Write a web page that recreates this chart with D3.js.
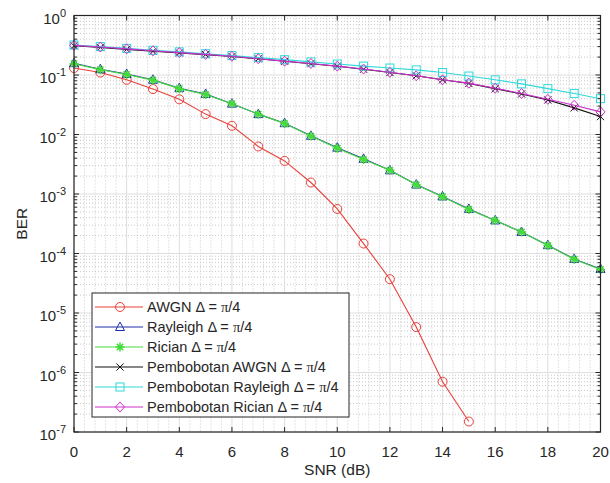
<!DOCTYPE html>
<html>
<head>
<meta charset="utf-8">
<script src="https://cdn.jsdelivr.net/npm/d3@7"></script>
<style>
  body { margin: 0; background: #fff; }
  svg text { font-family: "Liberation Sans", Arial, sans-serif; fill: #262626; }
</style>
</head>
<body>
<div id="chart"></div>
<script>
// ========== Data ==========
const snr = [0, 1, 2, 3, 4, 5, 6, 7, 8, 9, 10, 11, 12, 13, 14, 15, 16, 17, 18, 19, 20];
const snrAwgn = [0, 1, 2, 3, 4, 5, 6, 7, 8, 9, 10, 11, 12, 13, 14, 15];

const berAwgn = [0.131, 0.110, 0.083, 0.058, 0.039, 0.022, 0.014, 0.0063, 0.0036, 0.00156,
  5.6e-4, 1.47e-4, 3.7e-5, 5.8e-6, 7.0e-7, 1.5e-7];
const berRayleigh = [0.158, 0.125, 0.104, 0.083, 0.060, 0.048, 0.033, 0.022, 0.0155, 0.0095,
  0.0060, 0.0039, 0.0025, 0.00144, 9.1e-4, 5.6e-4, 3.6e-4, 2.3e-4, 1.38e-4, 8.1e-5, 5.5e-5];
const berRician = [0.155, 0.123, 0.102, 0.082, 0.059, 0.047, 0.033, 0.022, 0.0153, 0.0094,
  0.0059, 0.0038, 0.0025, 0.00143, 9.0e-4, 5.5e-4, 3.6e-4, 2.3e-4, 1.36e-4, 8.0e-5, 5.4e-5];
const berPembAwgn = [0.31, 0.29, 0.27, 0.25, 0.235, 0.22, 0.205, 0.187, 0.17, 0.155,
  0.14, 0.125, 0.11, 0.097, 0.083, 0.072, 0.059, 0.048, 0.038, 0.028, 0.020];
const berPembRayleigh = [0.32, 0.30, 0.28, 0.26, 0.245, 0.228, 0.212, 0.196, 0.181, 0.166,
  0.153, 0.141, 0.131, 0.122, 0.110, 0.096, 0.083, 0.071, 0.059, 0.049, 0.040];
const berPembRician = [0.315, 0.295, 0.275, 0.255, 0.238, 0.222, 0.206, 0.188, 0.171, 0.156,
  0.141, 0.126, 0.111, 0.097, 0.083, 0.073, 0.060, 0.049, 0.039, 0.031, 0.024];

const xTicks = [0, 2, 4, 6, 8, 10, 12, 14, 16, 18, 20];
const yExponents = [0, -1, -2, -3, -4, -5, -6, -7];
const legendLabels = ['AWGN', 'Rayleigh', 'Rician', 'Pembobotan AWGN', 'Pembobotan Rayleigh', 'Pembobotan Rician'];

// ========== Config ==========
const config = {
  width: 610, height: 483,
  plot: { left: 74, right: 600.5, top: 15.5, bottom: 432 },
  legend: { x: 92, y: 293, w: 257, h: 124, row: 20 }
};

const series = [
  { label: legendLabels[0], x: snrAwgn, y: berAwgn, color: '#e8403a', marker: 'circle' },
  { label: legendLabels[1], x: snr, y: berRayleigh, color: '#1f2ea8', marker: 'triangle' },
  { label: legendLabels[2], x: snr, y: berRician, color: '#45dc3a', marker: 'star' },
  { label: legendLabels[3], x: snr, y: berPembAwgn, color: '#111111', marker: 'cross' },
  { label: legendLabels[4], x: snr, y: berPembRayleigh, color: '#2fdada', marker: 'square' },
  { label: legendLabels[5], x: snr, y: berPembRician, color: '#cc2fcc', marker: 'diamond' }
];

// ========== SVG ==========
const svg = d3.select('#chart').append('svg')
  .attr('width', config.width)
  .attr('height', config.height);

const p = config.plot;
const x = d3.scaleLinear().domain([0, 20]).range([p.left, p.right]);
const y = d3.scaleLog().domain([1e-7, 1]).range([p.bottom, p.top]);

// ========== Grid ==========
const grid = svg.append('g');
const xMinor = d3.range(0, 20.001, 0.4).filter(v => Math.abs(v / 2 - Math.round(v / 2)) > 1e-6);
const yMinor = [];
yExponents.slice(1).forEach(e => { for (let k = 2; k <= 9; k++) yMinor.push(k * Math.pow(10, e)); });

grid.selectAll('.xminor').data(xMinor).join('line')
  .attr('x1', d => x(d)).attr('x2', d => x(d))
  .attr('y1', p.top).attr('y2', p.bottom)
  .attr('stroke', '#c8c8c8').attr('stroke-dasharray', '1,2');
grid.selectAll('.yminor').data(yMinor).join('line')
  .attr('x1', p.left).attr('x2', p.right)
  .attr('y1', d => y(d)).attr('y2', d => y(d))
  .attr('stroke', '#c8c8c8').attr('stroke-dasharray', '1,2');
grid.selectAll('.xmajor').data(xTicks).join('line')
  .attr('x1', d => x(d)).attr('x2', d => x(d))
  .attr('y1', p.top).attr('y2', p.bottom)
  .attr('stroke', '#dedede');
grid.selectAll('.ymajor').data(yExponents).join('line')
  .attr('x1', p.left).attr('x2', p.right)
  .attr('y1', d => y(Math.pow(10, d))).attr('y2', d => y(Math.pow(10, d)))
  .attr('stroke', '#dedede');

// ========== Markers ==========
function drawMarker(g, type, color) {
  const s = 4.5;
  if (type === 'circle') {
    g.append('circle').attr('r', s).attr('fill', 'none').attr('stroke', color);
  } else if (type === 'triangle') {
    g.append('path').attr('d', `M0,${-s - 0.5}L${s},${s - 1}L${-s},${s - 1}Z`)
      .attr('fill', 'none').attr('stroke', color);
  } else if (type === 'star') {
    g.append('path').attr('d', `M${-s},0H${s}M0,${-s}V${s}M${-s * 0.7},${-s * 0.7}L${s * 0.7},${s * 0.7}M${-s * 0.7},${s * 0.7}L${s * 0.7},${-s * 0.7}`)
      .attr('fill', 'none').attr('stroke', color).attr('stroke-width', 1.5);
  } else if (type === 'cross') {
    g.append('path').attr('d', `M${-s * 0.8},${-s * 0.8}L${s * 0.8},${s * 0.8}M${-s * 0.8},${s * 0.8}L${s * 0.8},${-s * 0.8}`)
      .attr('fill', 'none').attr('stroke', color);
  } else if (type === 'square') {
    g.append('rect').attr('x', -s + 0.5).attr('y', -s + 0.5).attr('width', 2 * s - 1).attr('height', 2 * s - 1)
      .attr('fill', 'none').attr('stroke', color);
  } else if (type === 'diamond') {
    g.append('path').attr('d', `M0,${-s - 0.5}L${s},0L0,${s + 0.5}L${-s},0Z`)
      .attr('fill', 'none').attr('stroke', color);
  }
}

// ========== Series ==========
const line = d3.line().x(d => x(d[0])).y(d => y(d[1]));
series.forEach(sr => {
  const pts = sr.x.map((v, i) => [v, sr.y[i]]);
  const g = svg.append('g');
  g.append('path').attr('d', line(pts))
    .attr('fill', 'none').attr('stroke', sr.color).attr('stroke-width', 1.1);
  pts.forEach(pt => {
    drawMarker(g.append('g').attr('transform', `translate(${x(pt[0])},${y(pt[1])})`), sr.marker, sr.color);
  });
});

// ========== Axes box & ticks ==========
const axes = svg.append('g').attr('stroke', '#262626');
axes.append('rect')
  .attr('x', p.left).attr('y', p.top)
  .attr('width', p.right - p.left).attr('height', p.bottom - p.top)
  .attr('fill', 'none').attr('stroke-width', 1.2);
xTicks.forEach(t => {
  axes.append('line').attr('x1', x(t)).attr('x2', x(t)).attr('y1', p.bottom).attr('y2', p.bottom - 5);
  axes.append('line').attr('x1', x(t)).attr('x2', x(t)).attr('y1', p.top).attr('y2', p.top + 5);
});
yExponents.forEach(e => {
  const yy = y(Math.pow(10, e));
  axes.append('line').attr('x1', p.left).attr('x2', p.left + 5).attr('y1', yy).attr('y2', yy);
  axes.append('line').attr('x1', p.right).attr('x2', p.right - 5).attr('y1', yy).attr('y2', yy);
});
yMinor.forEach(v => {
  axes.append('line').attr('x1', p.left).attr('x2', p.left + 3).attr('y1', y(v)).attr('y2', y(v));
  axes.append('line').attr('x1', p.right).attr('x2', p.right - 3).attr('y1', y(v)).attr('y2', y(v));
});

// ========== Tick labels ==========
svg.append('g').selectAll('text').data(xTicks).join('text')
  .attr('x', d => x(d)).attr('y', 457)
  .attr('text-anchor', 'middle').attr('font-size', 15)
  .text(d => d);

const yLab = svg.append('g').selectAll('text').data(yExponents).join('text')
  .attr('x', 66).attr('y', d => y(Math.pow(10, d)) + 8)
  .attr('text-anchor', 'end').attr('font-size', 15);
yLab.append('tspan').text('10');
yLab.append('tspan').attr('dy', -7).attr('font-size', 11).text(d => d);

// ========== Axis titles ==========
svg.append('text').attr('x', (p.left + p.right) / 2).attr('y', 475)
  .attr('text-anchor', 'middle').attr('font-size', 15.5).text('SNR (dB)');
svg.append('text').attr('transform', `translate(27,${(p.top + p.bottom) / 2}) rotate(-90)`)
  .attr('text-anchor', 'middle').attr('font-size', 15.5).text('BER');

// ========== Legend ==========
const lg = config.legend;
const legend = svg.append('g').attr('transform', `translate(${lg.x},${lg.y})`);
legend.append('rect').attr('width', lg.w).attr('height', lg.h)
  .attr('fill', '#fff').attr('stroke', '#262626');
series.forEach((sr, i) => {
  const yy = 14 + i * lg.row;
  legend.append('line').attr('x1', 3).attr('x2', 51).attr('y1', yy).attr('y2', yy)
    .attr('stroke', sr.color).attr('stroke-width', 1.1);
  drawMarker(legend.append('g').attr('transform', `translate(28,${yy})`), sr.marker, sr.color);
  const t = legend.append('text').attr('x', 55).attr('y', yy + 5).attr('font-size', 14.5);
  t.append('tspan').text(sr.label + ' \u0394 = ');
  t.append('tspan').attr('font-family', '"Liberation Serif", serif').text('\u03c0');
  t.append('tspan').text('/4');
});
</script>
</body>
</html>
